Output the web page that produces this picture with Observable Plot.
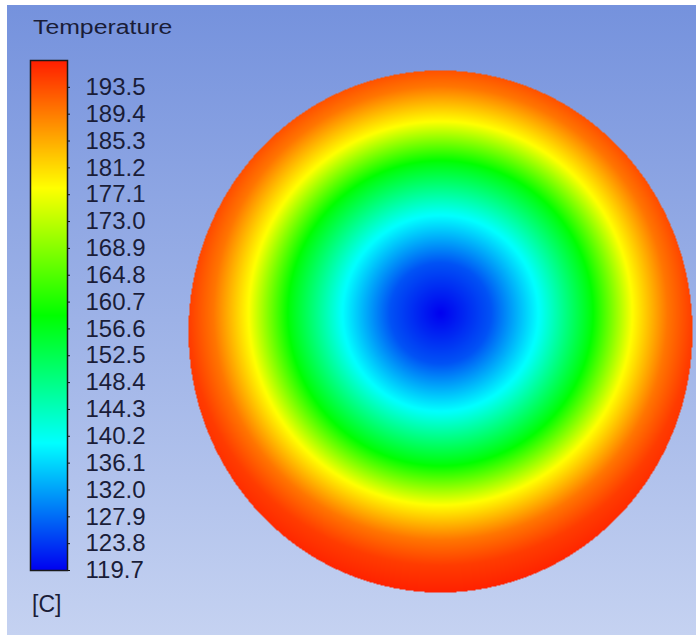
<!DOCTYPE html>
<html><head><meta charset="utf-8">
<script src="https://cdn.jsdelivr.net/npm/d3@7"></script>
<script src="https://cdn.jsdelivr.net/npm/@observablehq/plot@0.6"></script>
<style>
body{margin:0;background:#fff;}
#wrap{position:relative;width:696px;height:635px;overflow:hidden;background:#fff;font-family:"Liberation Sans",Arial,sans-serif;}
#bg{position:absolute;left:7px;top:5px;right:0;bottom:0;background:linear-gradient(to bottom,#7592dd 0%,#c5d2f1 100%);}
#wrap svg{position:absolute;left:0;top:0;}
.title{position:absolute;left:33px;top:16px;font-size:20px;line-height:1.15;color:#1a1d38;transform-origin:left top;transform:scaleX(1.24);white-space:nowrap;}
.unit{position:absolute;left:32px;top:591px;font-size:23px;line-height:1.15;color:#1a1d38;}
</style></head>
<body><div id="wrap"><div id="bg"></div></div>
<script>
// ---- data ----
const legendTitle = "Temperature";
const unitLabel = "[C]";
const tempRange = [119.7, 197.6];
const tickLabels = [193.5,189.4,185.3,181.2,177.1,173.0,168.9,164.8,160.7,156.6,152.5,148.4,144.3,140.2,136.1,132.0,127.9,123.8,119.7];
const colorStops = [119.7, 139.2, 158.65, 178.1, 197.6];
const colorNames = ["#0000f0","#00ffff","#00ff00","#ffff00","#ff1e00"];
// radial temperature profile (distance from hot-spot centre in disc radii)
const profileRadius = [0, 0.2, 0.4, 0.6, 0.76, 0.9, 1.0, 1.12];
const profileTemp   = [119.7, 126, 140, 158, 178, 190, 195, 197.6];
const fieldCenter = [0, 0.07];

const wrap = document.getElementById("wrap");
const temp = d3.scaleLinear().domain(profileRadius).range(profileTemp).clamp(true);
const colorOpt = {type: "linear", domain: colorStops, range: colorNames, interpolate: "rgb"};

const main = Plot.plot({
  width: 696, height: 635,
  marginLeft: 188, marginRight: 4, marginTop: 70, marginBottom: 43,
  x: {domain: [-1, 1], axis: null},
  y: {domain: [-1, 1], axis: null},
  color: colorOpt,
  style: {background: "transparent"},
  marks: [
    Plot.raster({
      x1: -1, x2: 1, y1: -1, y2: 1, pixelSize: 1,
      fill: (x, y) => {
        if (x * x + y * y > 1) return NaN;
        const dx = (x - fieldCenter[0]) * 252, dy = (y - fieldCenter[1]) * 261;
        return temp(Math.hypot(dx, dy) / 252);
      }
    })
  ]
});
wrap.appendChild(main);

const legend = Plot.plot({
  width: 180, height: 635,
  marginLeft: 30, marginRight: 113, marginTop: 60, marginBottom: 65,
  x: {domain: [0, 1], axis: null},
  y: {domain: tempRange},
  color: colorOpt,
  style: {background: "transparent", color: "#1a1d38", fontFamily: "'Liberation Sans', Arial, sans-serif", overflow: "visible"},
  marks: [
    Plot.raster({x1: 0, x2: 1, y1: tempRange[0], y2: tempRange[1], pixelSize: 1, fill: (x, y) => y}),
    Plot.frame({stroke: "#1a1a1a", strokeWidth: 1.5}),
    Plot.axisY(tickLabels, {anchor: "right", tickFormat: d => d.toFixed(1), tickSize: 2, tickPadding: 16, fontSize: 24, label: null, stroke: "#111"})
  ]
});
wrap.appendChild(legend);

const t = document.createElement("div"); t.className = "title"; t.textContent = legendTitle; wrap.appendChild(t);
const u = document.createElement("div"); u.className = "unit"; u.textContent = unitLabel; wrap.appendChild(u);
</script>
</body></html>
